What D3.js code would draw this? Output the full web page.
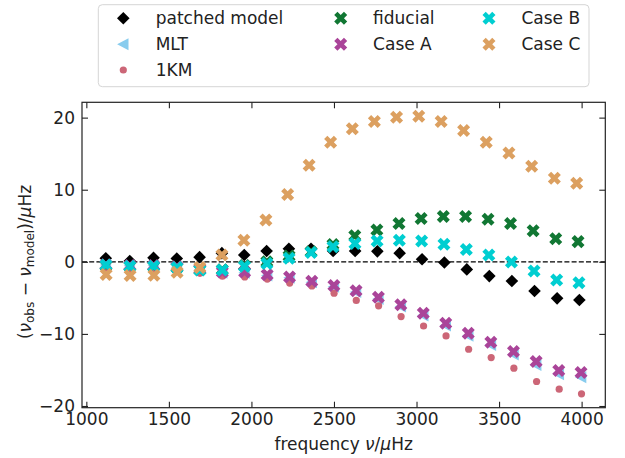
<!DOCTYPE html>
<html>
<head>
<meta charset="utf-8">
<script src="https://cdn.jsdelivr.net/npm/d3@7"></script>
<style>
  body { margin: 0; background: #fff; }
  svg { font-family: "DejaVu Sans", sans-serif; }
</style>
</head>
<body>
<div id="vizDiv"></div>
<script>
var width = 625
var height = 458

// observed radial mode frequencies (muHz)
var nuObs = [1118.3, 1263.2, 1407.5, 1548.3, 1686.6, 1822.2, 1957.4, 2093.5, 2228.8, 2362.8, 2496.2,
             2629.7, 2764.2, 2899.0, 3033.8, 3168.6, 3303.5, 3439.0, 3574.9, 3710.7, 3846.5, 3981.1]

// nu_obs - nu_model for each model (muHz)
var patched = [0.5, 0.1, 0.55, 0.45, 0.65, 1.2, 0.95, 1.5, 1.8, 1.8, 1.5,
               1.5, 1.45, 1.2, 0.35, -0.1, -1.05, -1.98, -2.67, -4.05, -5.07, -5.3]
var mlt = [-0.45, -0.55, -0.55, -0.75, -1.05, -1.5, -1.5, -1.9, -2.2, -2.85, -3.45,
           -4.2, -5.15, -6.2, -7.45, -8.85, -10.25, -11.55, -12.85, -14.3, -15.6, -16.0]
var oneKM = [-0.9, -1.1, -1.1, -1.3, -1.6, -2.0, -2.1, -2.4, -2.95, -3.35, -4.35,
             -5.35, -6.1, -7.6, -8.9, -10.28, -12.13, -13.28, -14.76, -16.6, -17.67, -18.31]
var fiducial = [-0.5, -0.6, -0.6, -0.8, -1.1, -1.1, -0.5, 0.0, 0.8, 1.4, 2.4,
                3.6, 4.4, 5.3, 6.0, 6.3, 6.3, 5.9, 5.3, 4.3, 3.2, 2.8]
var caseA = [-0.4, -0.5, -0.5, -0.7, -1.0, -1.4, -1.4, -1.8, -2.1, -2.7, -3.3,
             -4.0, -4.93, -5.95, -7.14, -8.53, -9.9, -11.16, -12.45, -13.84, -15.09, -15.36]
var caseB = [-0.45, -0.6, -0.6, -0.8, -1.15, -1.15, -0.6, -0.25, 0.5, 1.3, 2.1,
             2.55, 2.9, 3.0, 2.9, 2.45, 1.72, 0.93, -0.04, -1.29, -2.53, -2.9]
var caseC = [-1.75, -1.9, -1.85, -1.45, -0.8, 0.95, 3.0, 5.8, 9.35, 13.4, 16.6,
             18.45, 19.45, 20.05, 20.2, 19.45, 18.2, 16.6, 15.1, 13.25, 11.6, 10.9]

var seriesNames = ["patched model", "MLT", "1KM", "fiducial", "Case A", "Case B", "Case C"]
var seriesValues = [patched, mlt, oneKM, fiducial, caseA, caseB, caseC]
var seriesColors = ["#000000", "#88ccee", "#cc6677", "#117733", "#aa4499", "#00ced1", "#dca060"]
var seriesMarkers = ["diamond", "triangleLeft", "dot", "x", "x", "x", "x"]

var xTicks = [1000, 1500, 2000, 2500, 3000, 3500, 4000]
var yTicks = [-20, -10, 0, 10, 20]

var plotLeft = 82, plotRight = 605.3, plotTop = 102.3, plotBottom = 407.7

var svg = d3.select("#vizDiv")
  .append("svg")
  .attr("width", width)
  .attr("height", height)

// build points; x is the model frequency = nu_obs - delta
var series = seriesNames.map(function(name, i) {
  return {
    name: name,
    color: seriesColors[i],
    marker: seriesMarkers[i],
    points: seriesValues[i].map(function(d, j) { return {x: nuObs[j] - d, y: d} })
  }
})

var allPts = [].concat.apply([], series.map(function(s) { return s.points }))
var xExt = d3.extent(allPts, function(p) { return p.x })
var yExt = d3.extent(allPts, function(p) { return p.y })
var xPad = (xExt[1] - xExt[0]) * 0.05
var yPad = (yExt[1] - yExt[0]) * 0.05

var x = d3.scaleLinear().domain([xExt[0] - xPad, xExt[1] + xPad]).range([plotLeft, plotRight])
var y = d3.scaleLinear().domain([yExt[0] - yPad, yExt[1] + yPad]).range([plotBottom, plotTop])

function fmt(d) { return d < 0 ? "\u2212" + Math.abs(d) : "" + d }

// marker paths
function markerPath(type) {
  if (type == "diamond") return "M0,-6.3L6.3,0L0,6.3L-6.3,0Z"
  if (type == "triangleLeft") return "M-6.2,0L5.2,-6L5.2,6Z"
  if (type == "x") {
    var L = 6.9, w = 2.3
    return "M" + [[-w,-L],[w,-L],[w,-w],[L,-w],[L,w],[w,w],[w,L],[-w,L],[-w,w],[-L,w],[-L,-w],[-w,-w]].join("L") + "Z"
  }
  return null
}

function drawMarker(g, type, color, cx, cy) {
  if (type == "dot") {
    g.append("circle").attr("cx", cx).attr("cy", cy).attr("r", 3.6).attr("fill", color)
  } else {
    g.append("path")
      .attr("d", markerPath(type))
      .attr("transform", "translate(" + cx + "," + cy + ")" + (type == "x" ? " rotate(45)" : ""))
      .attr("fill", color)
  }
}

// zero line
svg.append("line")
  .attr("x1", plotLeft).attr("x2", plotRight)
  .attr("y1", y(0)).attr("y2", y(0))
  .attr("stroke", "black")
  .attr("stroke-width", 1.3)
  .attr("stroke-dasharray", "5,2.2")

// points
series.forEach(function(s) {
  var g = svg.append("g")
  s.points.forEach(function(p) {
    drawMarker(g, s.marker, s.color, x(p.x), y(p.y))
  })
})

// axes, ticks pointing in on all sides
var axB = svg.append("g").attr("transform", "translate(0," + plotBottom + ")")
  .call(d3.axisBottom(x).tickValues(xTicks).tickFormat(fmt).tickSizeInner(-6).tickSizeOuter(0).tickPadding(5))
var axT = svg.append("g").attr("transform", "translate(0," + plotTop + ")")
  .call(d3.axisTop(x).tickValues(xTicks).tickFormat("").tickSizeInner(-6).tickSizeOuter(0))
var axL = svg.append("g").attr("transform", "translate(" + plotLeft + ",0)")
  .call(d3.axisLeft(y).tickValues(yTicks).tickFormat(fmt).tickSizeInner(-6).tickSizeOuter(0).tickPadding(7))
var axR = svg.append("g").attr("transform", "translate(" + plotRight + ",0)")
  .call(d3.axisRight(y).tickValues(yTicks).tickFormat("").tickSizeInner(-6).tickSizeOuter(0))

;[axB, axT, axL, axR].forEach(function(a) {
  a.select(".domain").remove()
  a.selectAll(".tick line").attr("stroke", "#222").attr("stroke-width", 1.1)
  a.selectAll("text")
    .attr("font-family", "DejaVu Sans")
    .attr("font-size", 17)
    .attr("fill", "#222")
})

svg.append("rect")
  .attr("x", plotLeft).attr("y", plotTop)
  .attr("width", plotRight - plotLeft).attr("height", plotBottom - plotTop)
  .attr("fill", "none")
  .attr("stroke", "#222")
  .attr("stroke-width", 1.2)

// axis labels
var xl = svg.append("text")
  .attr("x", (plotLeft + plotRight) / 2)
  .attr("y", 450)
  .attr("text-anchor", "middle")
  .attr("font-size", 17)
  .attr("fill", "#222")
xl.append("tspan").text("frequency ")
xl.append("tspan").attr("font-style", "italic").text("\u03bd")
xl.append("tspan").text("/")
xl.append("tspan").attr("font-style", "italic").text("\u03bc")
xl.append("tspan").text("Hz")

var yl = svg.append("text")
  .attr("transform", "translate(31,262) rotate(-90)")
  .attr("text-anchor", "middle")
  .attr("font-size", 17)
  .attr("fill", "#222")
yl.append("tspan").text("(")
yl.append("tspan").attr("font-style", "italic").text("\u03bd")
yl.append("tspan").attr("font-size", 12).attr("dy", 3).text("obs")
yl.append("tspan").attr("dy", -3).text(" \u2212 ")
yl.append("tspan").attr("font-style", "italic").text("\u03bd")
yl.append("tspan").attr("font-size", 12).attr("dy", 3).text("model")
yl.append("tspan").attr("dy", -3).text(")/")
yl.append("tspan").attr("font-style", "italic").text("\u03bc")
yl.append("tspan").text("Hz")

// legend
var legendCols = [123.3, 340.7, 489]
var legendRows = [18.3, 44.3, 70]
var legendColOf = [0, 0, 0, 1, 1, 2, 2]
var legendRowOf = [0, 1, 2, 0, 1, 0, 1]

svg.append("rect")
  .attr("x", 98.3).attr("y", 4.7)
  .attr("width", 490.7).attr("height", 82)
  .attr("rx", 4)
  .attr("fill", "white")
  .attr("stroke", "#d5d5d5")
  .attr("stroke-width", 1)

var lg = svg.append("g")
series.forEach(function(s, i) {
  var mx = legendCols[legendColOf[i]]
  var my = legendRows[legendRowOf[i]]
  drawMarker(lg, s.marker, s.color, mx, my)
  lg.append("text")
    .attr("x", mx + 32.4)
    .attr("y", my)
    .attr("dy", "0.36em")
    .attr("font-size", 17)
    .attr("fill", "#222")
    .text(s.name)
})
</script>
</body>
</html>
